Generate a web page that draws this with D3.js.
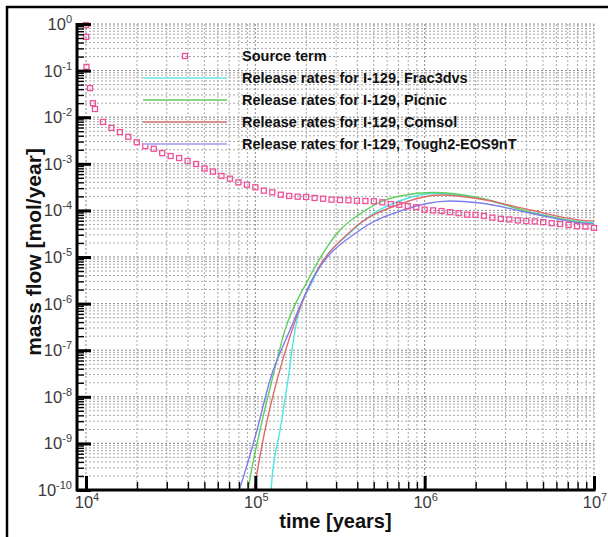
<!DOCTYPE html>
<html><head><meta charset="utf-8">
<script src="https://cdn.jsdelivr.net/npm/d3@7"></script>
<style>html,body{margin:0;padding:0;background:#fff;}svg{display:block;}</style>
</head><body>
<script>
// ---------------- data ----------------
const sourceTimes = [10000, 10020, 10060, 10560, 10990, 11300,
  12589, 14125, 15849, 17783, 19953, 22387, 25119, 28184, 31623, 35481, 39811, 44668,
  50119, 56234, 63096, 70795, 79433, 89125, 100000, 112202, 125893, 141254, 158489, 177828,
  199526, 223872, 251189, 281838, 316228, 354813, 398107, 446684, 501187, 562341, 630957,
  707946, 794328, 891251, 1000000, 1122018, 1258925, 1412538, 1584893, 1778279, 1995262,
  2238721, 2511886, 2818383, 3162278, 3548134, 3981072, 4466836, 5011872, 5623413, 6309573,
  7079458, 7943282, 8912509, 10000000];
const sourceValues = [0.95, 0.53, 0.12, 0.042, 0.020, 0.015,
  7.9e-3, 5.9e-3, 4.8e-3, 3.8e-3, 2.9e-3, 2.4e-3, 2.1e-3, 1.7e-3, 1.47e-3, 1.33e-3, 1.15e-3, 9.9e-4,
  7.9e-4, 6.8e-4, 5.5e-4, 4.8e-4, 4.0e-4, 3.56e-4, 3.13e-4, 2.65e-4, 2.44e-4, 2.17e-4, 2.04e-4, 1.97e-4,
  1.94e-4, 1.85e-4, 1.78e-4, 1.70e-4, 1.67e-4, 1.65e-4, 1.61e-4, 1.59e-4, 1.57e-4, 1.49e-4, 1.37e-4,
  1.32e-4, 1.24e-4, 1.17e-4, 1.04e-4, 1.0e-4, 9.7e-5, 9.2e-5, 8.7e-5, 8.1e-5, 8.0e-5,
  7.6e-5, 7.0e-5, 6.6e-5, 6.4e-5, 6.1e-5, 5.9e-5, 5.8e-5, 5.6e-5, 5.3e-5, 5.1e-5,
  4.9e-5, 4.6e-5, 4.5e-5, 4.2e-5];

const frac3dvsTimes  = [123800, 125500, 140000, 155900, 171600, 219200, 377700, 500000, 716400, 1122000, 2124000, 4194000, 8280000, 10000000];
const frac3dvsValues = [1e-10, 1.8e-10, 1.94e-9, 2.3e-8, 2.7e-7, 3.2e-6, 3.8e-5, 8.6e-5, 1.61e-4, 2.30e-4, 1.80e-4, 9.2e-5, 5.7e-5, 5.4e-5];

const picnicTimes  = [90600, 93100, 106600, 125500, 149700, 204500, 316200, 415300, 545500, 716400, 1122000, 2124000, 4194000, 8280000, 10000000];
const picnicValues = [1e-10, 1.8e-10, 1.94e-9, 2.3e-8, 2.7e-7, 3.2e-6, 3.8e-5, 8.4e-5, 1.51e-4, 2.04e-4, 2.42e-4, 1.85e-4, 9.2e-5, 5.6e-5, 5.1e-5];

const comsolTimes  = [98200, 101000, 114100, 134400, 164700, 216100, 372500, 716400, 1234000, 2124000, 4194000, 8280000, 10000000];
const comsolValues = [1e-10, 1.8e-10, 1.94e-9, 2.3e-8, 2.7e-7, 3.2e-6, 3.8e-5, 1.37e-4, 2.14e-4, 1.76e-4, 1.02e-4, 6.2e-5, 5.9e-5];

const toughTimes  = [80200, 84600, 102300, 122100, 160200, 216100, 415300, 716400, 1414000, 2124000, 4194000, 8280000, 10000000];
const toughValues = [1e-10, 1.8e-10, 1.94e-9, 2.3e-8, 2.7e-7, 3.2e-6, 3.8e-5, 9.7e-5, 1.59e-4, 1.44e-4, 8.8e-5, 5.4e-5, 5.1e-5];

const seriesNames = ["Release rates for I-129, Frac3dvs", "Release rates for I-129, Picnic",
                     "Release rates for I-129, Comsol", "Release rates for I-129, Tough2-EOS9nT"];
const sourceName = "Source term";
const seriesColors = ["#4fe6e6", "#5fcf5f", "#e06a6a", "#7d7df0"];
const legendColors = ["#8cecec", "#88d888", "#d99090", "#b4b4f4"];
const xTickExps = [4, 5, 6, 7];
const yTickExps = [0, -1, -2, -3, -4, -5, -6, -7, -8, -9, -10];
const xLabel = "time [years]";
const yLabel = "mass flow [mol/year]";

// ---------------- layout ----------------
const W = 608, H = 537;
const plotLeft = 77, plotRight = 594, plotTop = 24, plotBottom = 490;
const FONT = "'Liberation Sans', Arial, Helvetica, sans-serif";

const svg = d3.select("body").append("svg").attr("width", W).attr("height", H)
  .style("background", "#fff");

const x = d3.scaleLog().domain([1e4, 1e7]).range([86, 594]);
const y = d3.scaleLog().domain([1e-10, 1]).range([plotBottom, plotTop]);

// outer frame (top and left only)
svg.append("line").attr("x1", 6).attr("x2", W).attr("y1", 7).attr("y2", 7)
  .attr("stroke", "#000").attr("stroke-width", 2.5);
svg.append("line").attr("x1", 7).attr("x2", 7).attr("y1", 6).attr("y2", H)
  .attr("stroke", "#000").attr("stroke-width", 2.5);

// tick value sets
const xMajor = xTickExps.map(e => Math.pow(10, e));
const yMajor = yTickExps.map(e => Math.pow(10, e));
const xMinor = [], yMinor = [];
for (let e = 4; e < 7; e++) for (let k = 2; k <= 9; k++) xMinor.push(k * Math.pow(10, e));
for (let e = -10; e < 0; e++) for (let k = 2; k <= 9; k++) yMinor.push(k * Math.pow(10, e));

// grid
const grid = svg.append("g");
grid.selectAll(".vmin").data(xMinor).join("line")
  .attr("x1", d => x(d)).attr("x2", d => x(d)).attr("y1", plotTop).attr("y2", plotBottom)
  .attr("stroke", "#a8a8a8").attr("stroke-width", 1).attr("stroke-dasharray", "2,2");
grid.selectAll(".hmin").data(yMinor).join("line")
  .attr("x1", plotLeft).attr("x2", plotRight).attr("y1", d => y(d)).attr("y2", d => y(d))
  .attr("stroke", "#a8a8a8").attr("stroke-width", 1).attr("stroke-dasharray", "2,2");
grid.selectAll(".vmaj").data(xMajor).join("line")
  .attr("x1", d => x(d)).attr("x2", d => x(d)).attr("y1", plotTop).attr("y2", plotBottom)
  .attr("stroke", "#888").attr("stroke-width", 1).attr("stroke-dasharray", "2,2");
grid.selectAll(".hmaj").data(yMajor).join("line")
  .attr("x1", plotLeft).attr("x2", plotRight).attr("y1", d => y(d)).attr("y2", d => y(d))
  .attr("stroke", "#888").attr("stroke-width", 1).attr("stroke-dasharray", "2,2");

// series lines
const clip = svg.append("clipPath").attr("id", "clip").append("rect")
  .attr("x", plotLeft).attr("y", plotTop).attr("width", plotRight - plotLeft + 1).attr("height", plotBottom - plotTop);
const line = d3.line().x(d => x(d[0])).y(d => y(d[1])).curve(d3.curveMonotoneX);
const seriesT = [frac3dvsTimes, picnicTimes, comsolTimes, toughTimes];
const seriesV = [frac3dvsValues, picnicValues, comsolValues, toughValues];
const lines = svg.append("g").attr("clip-path", "url(#clip)");
seriesT.forEach((ts, i) => {
  const pts = ts.map((t, j) => [t, seriesV[i][j]]);
  lines.append("path").datum(pts).attr("d", line).attr("fill", "none")
    .attr("stroke", seriesColors[i]).attr("stroke-width", 1.4);
});

// source term markers
const MK = "#f0509a";
const srcPts = sourceTimes.map((t, i) => [t, sourceValues[i]]);
svg.append("g").selectAll("rect").data(srcPts).join("rect")
  .attr("x", d => x(d[0]) - 2.5).attr("y", d => y(d[1]) - 2.5)
  .attr("width", 5).attr("height", 5).attr("fill", "none")
  .attr("stroke", MK).attr("stroke-width", 1.3);

// axes
const axL = svg.append("g").attr("transform", `translate(${plotLeft},0)`);
axL.call(d3.axisLeft(y).tickValues(yMinor).tickSize(-7).tickFormat("").tickSizeOuter(0));
axL.call(g => g.selectAll(".tick line").attr("stroke", "#000").attr("stroke-width", 1.4));
axL.call(g => g.select(".domain").remove());
const axL2 = svg.append("g").attr("transform", `translate(${plotLeft},0)`);
axL2.call(d3.axisLeft(y).tickValues(yMajor).tickSize(-14).tickFormat("").tickSizeOuter(0));
axL2.call(g => g.selectAll(".tick line").attr("stroke", "#000").attr("stroke-width", 3));
axL2.call(g => g.select(".domain").remove());

const axB = svg.append("g").attr("transform", `translate(0,${plotBottom})`);
axB.call(d3.axisBottom(x).tickValues(xMinor).tickSize(-8).tickFormat("").tickSizeOuter(0));
axB.call(g => g.selectAll(".tick line").attr("stroke", "#000").attr("stroke-width", 1.4));
axB.call(g => g.select(".domain").remove());
const axB2 = svg.append("g").attr("transform", `translate(0,${plotBottom})`);
axB2.call(d3.axisBottom(x).tickValues(xMajor).tickSize(-14).tickFormat("").tickSizeOuter(0));
axB2.call(g => g.selectAll(".tick line").attr("stroke", "#000").attr("stroke-width", 3));
axB2.call(g => g.select(".domain").remove());

// axis lines
svg.append("line").attr("x1", plotLeft).attr("x2", plotLeft).attr("y1", plotTop - 1).attr("y2", plotBottom + 1.5)
  .attr("stroke", "#000").attr("stroke-width", 3);
svg.append("line").attr("x1", plotLeft).attr("x2", plotRight + 1.5).attr("y1", plotBottom).attr("y2", plotBottom)
  .attr("stroke", "#000").attr("stroke-width", 3);

// tick labels
const TL = "#3a3a3a";
yTickExps.forEach((e, i) => {
  const t = svg.append("text").attr("x", 72).attr("y", y(yMajor[i]) + 6)
    .attr("text-anchor", "end").attr("font-family", FONT).attr("font-size", 16.5).attr("fill", TL);
  t.append("tspan").text("10");
  t.append("tspan").attr("dy", -7).attr("font-size", 11).text(String(e).replace("-", "-"));
});
xTickExps.forEach((e, i) => {
  const t = svg.append("text").attr("x", x(xMajor[i]) + 1).attr("y", 508)
    .attr("text-anchor", "middle").attr("font-family", FONT).attr("font-size", 16.5).attr("fill", TL);
  t.append("tspan").text("10");
  t.append("tspan").attr("dy", -7).attr("font-size", 11).text(String(e));
});

// axis titles
svg.append("text").attr("x", (plotLeft + plotRight) / 2).attr("y", 528)
  .attr("text-anchor", "middle").attr("font-family", FONT).attr("font-weight", "bold")
  .attr("font-size", 20).attr("fill", "#111").text(xLabel);
svg.append("text").attr("transform", `translate(41,252) rotate(-90)`)
  .attr("text-anchor", "middle").attr("font-family", FONT).attr("font-weight", "bold")
  .attr("font-size", 21).attr("fill", "#111").text(yLabel);

// legend
const lg = svg.append("g");
lg.append("rect").attr("x", 185 - 2.5).attr("y", 56 - 2.5).attr("width", 5).attr("height", 5)
  .attr("fill", "none").attr("stroke", MK).attr("stroke-width", 1.3);
lg.append("text").attr("x", 242).attr("y", 61).attr("font-family", FONT).attr("font-weight", "bold")
  .attr("font-size", 14.5).attr("fill", "#111").text(sourceName);
const legendY = [78, 100, 122, 144];
seriesNames.forEach((n, i) => {
  lg.append("line").attr("x1", 143).attr("x2", 227).attr("y1", legendY[i]).attr("y2", legendY[i])
    .attr("stroke", legendColors[i]).attr("stroke-width", 2);
  lg.append("text").attr("x", 242).attr("y", legendY[i] + 5).attr("font-family", FONT)
    .attr("font-weight", "bold").attr("font-size", 14.5).attr("fill", "#111").text(n);
});
</script>
</body></html>
